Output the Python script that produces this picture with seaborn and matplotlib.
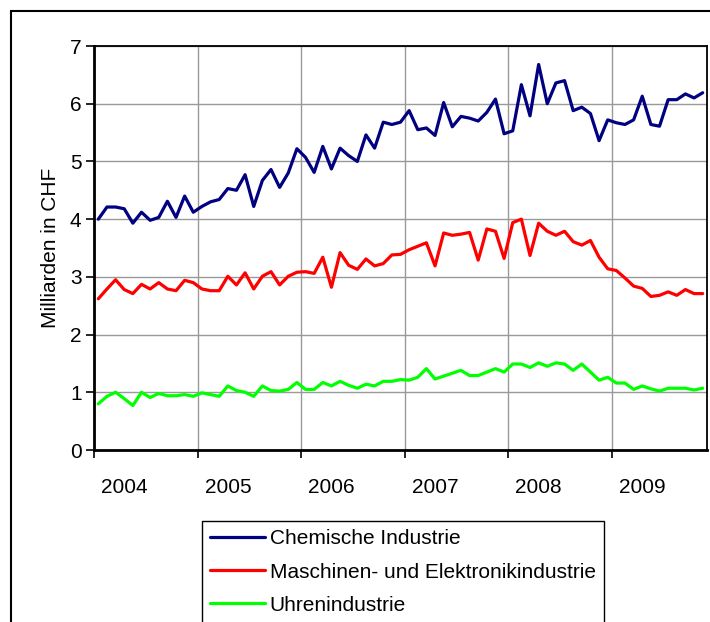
import matplotlib
matplotlib.use("Agg")
import matplotlib.pyplot as plt
from matplotlib.patches import Rectangle
import seaborn as sns
import numpy as np
import pandas as pd

# Monatswerte Jan 2004 - Nov 2009, Milliarden CHF
chemie = [4.00, 4.21, 4.21, 4.18, 3.93, 4.12, 3.98, 4.03, 4.31, 4.03, 4.40, 4.12,
          4.22, 4.30, 4.34, 4.53, 4.50, 4.77, 4.22, 4.67, 4.86, 4.55, 4.80, 5.22,
          5.07, 4.81, 5.26, 4.87, 5.23, 5.10, 5.00, 5.46, 5.23, 5.68, 5.64, 5.68,
          5.88, 5.55, 5.58, 5.45, 6.02, 5.60, 5.78, 5.75, 5.70, 5.85, 6.08, 5.48,
          5.53, 6.33, 5.79, 6.68, 6.00, 6.36, 6.40, 5.88, 5.94, 5.83, 5.36, 5.72,
          5.67, 5.64, 5.72, 6.13, 5.64, 5.61, 6.07, 6.07, 6.17, 6.10, 6.19]
maschinen = [2.62, 2.79, 2.95, 2.78, 2.71, 2.87, 2.79, 2.90, 2.79, 2.76, 2.94, 2.90,
             2.79, 2.76, 2.76, 3.01, 2.86, 3.07, 2.79, 3.01, 3.09, 2.86, 3.01, 3.08,
             3.09, 3.06, 3.34, 2.82, 3.42, 3.20, 3.13, 3.31, 3.19, 3.23, 3.38, 3.39,
             3.47, 3.53, 3.59, 3.19, 3.76, 3.72, 3.74, 3.77, 3.29, 3.83, 3.79, 3.32,
             3.94, 4.00, 3.37, 3.93, 3.79, 3.72, 3.79, 3.61, 3.55, 3.63, 3.34, 3.14,
             3.11, 2.98, 2.84, 2.80, 2.66, 2.68, 2.74, 2.68, 2.78, 2.71, 2.71]
uhren = [0.80, 0.93, 1.00, 0.89, 0.77, 1.00, 0.91, 0.98, 0.94, 0.94, 0.96, 0.93,
         0.99, 0.96, 0.93, 1.11, 1.03, 1.00, 0.93, 1.11, 1.03, 1.02, 1.05, 1.17,
         1.05, 1.05, 1.17, 1.11, 1.19, 1.12, 1.07, 1.14, 1.11, 1.19, 1.19, 1.22,
         1.21, 1.26, 1.41, 1.23, 1.28, 1.33, 1.38, 1.29, 1.29, 1.35, 1.41, 1.35,
         1.49, 1.49, 1.43, 1.51, 1.45, 1.51, 1.49, 1.38, 1.49, 1.35, 1.21, 1.26,
         1.16, 1.16, 1.05, 1.11, 1.06, 1.02, 1.07, 1.07, 1.07, 1.04, 1.07]

series_names = ["Chemische Industrie", "Maschinen- und Elektronikindustrie", "Uhrenindustrie"]
colors = ["#000080", "#ff0000", "#00ff00"]
years = ["2004", "2005", "2006", "2007", "2008", "2009"]

n = len(chemie)
df = pd.DataFrame({
    "idx": np.tile(np.arange(n), 3),
    "wert": chemie + maschinen + uhren,
    "branche": np.repeat(series_names, n),
})

sns.set_theme(style="white")
plt.rcParams["font.family"] = ["Liberation Sans", "DejaVu Sans"]
plt.rcParams["text.color"] = "black"
plt.rcParams["axes.labelcolor"] = "black"
plt.rcParams["xtick.color"] = "black"
plt.rcParams["ytick.color"] = "black"

fig = plt.figure(figsize=(7.1, 6.22), dpi=100)
ax = fig.add_axes([94 / 710, 1 - 450 / 622, (707 - 94) / 710, (450 - 46) / 622])

sns.lineplot(data=df, x="idx", y="wert", hue="branche", palette=colors,
             hue_order=series_names, linewidth=2.3, ax=ax, legend=False)

ax.set_xlim(-0.5, n - 0.5)
ax.set_ylim(0, 7)
ax.set_yticks(range(0, 8))
ax.set_xticks(np.arange(-0.5, n, 12))
ax.set_xticks(np.arange(3, n, 12), minor=True)
ax.set_xticklabels([])
ax.set_xticklabels(years, minor=True)
ax.tick_params(axis="x", which="major", length=6, width=1.2, direction="out", bottom=True)
ax.tick_params(axis="x", which="minor", length=0, pad=20, labelsize=15)
ax.tick_params(axis="y", length=6, width=1.2, direction="out", left=True, labelsize=15, pad=3)
ax.grid(True, which="major", color="#999999", linewidth=1)
ax.set_axisbelow(True)
for sp in ax.spines.values():
    sp.set_color("black")
    sp.set_linewidth(1.3)
ax.spines["left"].set_linewidth(2)
ax.spines["bottom"].set_linewidth(2)
ax.set_xlabel("")
ax.set_ylabel("Milliarden in CHF", fontsize=15, labelpad=7)

handles = [plt.Line2D([], [], color=c, linewidth=2.3) for c in colors]
leg = fig.legend(handles, series_names, loc="upper left",
                 bbox_to_anchor=(202 / 710, 1 - 521 / 622), fontsize=15,
                 frameon=True, fancybox=False, edgecolor="black", framealpha=1,
                 handlelength=2.6, handletextpad=0.25, labelspacing=0.68,
                 borderpad=0.4, borderaxespad=0)
leg.get_frame().set_linewidth(1)

fig.patches.append(Rectangle((11 / 710, -0.05), 0.99, 1 - 11 / 622 + 0.05,
                             transform=fig.transFigure, fill=False,
                             edgecolor="black", linewidth=1.5))

fig.savefig("out.png", dpi=100)
